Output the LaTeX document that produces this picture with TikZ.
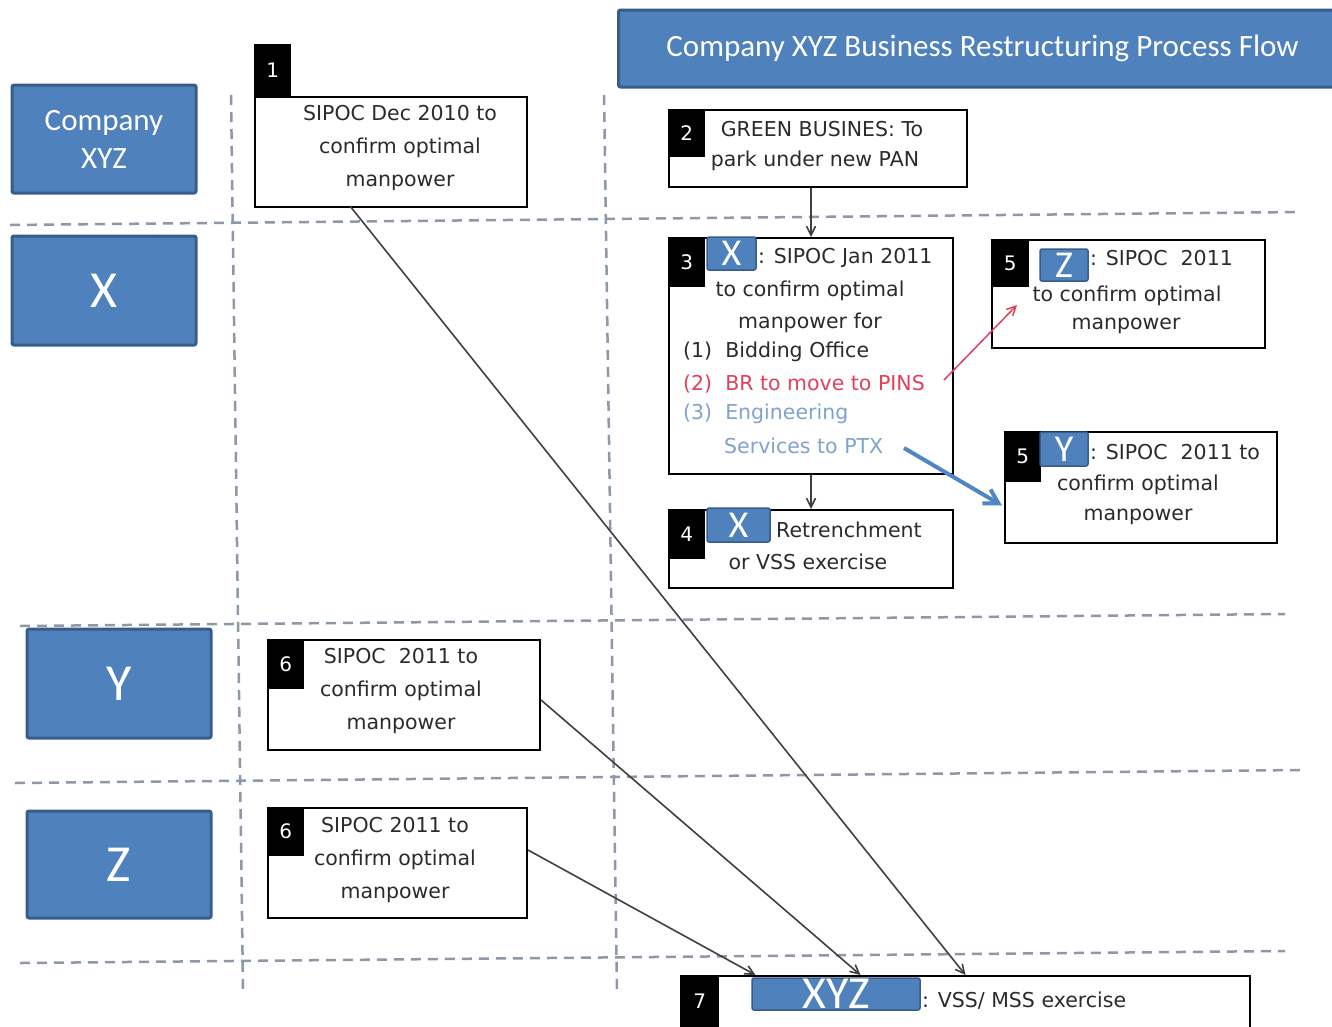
\documentclass[tikz,border=0pt]{standalone}
\usepackage{fontspec}
\setmainfont{Carlito}
\newfontfamily\boxfont{DejaVu Sans}
\usetikzlibrary{arrows.meta,calc}
\definecolor{lblue}{HTML}{4F81BD}
\definecolor{dblue}{HTML}{385D8A}
\definecolor{dashc}{HTML}{8D98A8}
\definecolor{txt}{HTML}{2B2B2B}
\definecolor{redc}{HTML}{E0405A}
\definecolor{lbtxt}{HTML}{7FA3CC}
\definecolor{arrblue}{HTML}{4F86C6}
\begin{document}
\begin{tikzpicture}[x=1pt,y=-1pt,
  lbl/.style={fill=lblue,draw=dblue,line width=3pt,rounded corners=2pt,text=white,align=center,inner sep=0pt},
  tag/.style={fill=lblue,draw=dblue,line width=1.5pt,rounded corners=2pt,text=white,inner sep=0pt},
  procbox/.style={draw=black,line width=2pt,fill=white,inner sep=0pt},
  tabbox/.style={fill=black,inner sep=0pt,text=white,font=\boxfont\fontsize{20}{24}\selectfont},
  btxt/.style={text=txt,font=\boxfont\fontsize{20.5}{33}\selectfont,align=center,inner sep=0pt},
  sep/.style={draw=dashc,line width=2.5pt,dash pattern=on 10pt off 7pt},
  arr/.style={draw=txt!90,line width=1.6pt,-{Straight Barb[length=9pt,width=9pt]}},
]
\useasboundingbox (0,0) rectangle (1332,1026);
\fill[white] (0,0) rectangle (1332,1026);

% separators
\draw[sep] (10,225) -- (1300,212);
\draw[sep] (20,626) -- (1285,614);
\draw[sep] (15,783) -- (1300,770);
\draw[sep] (20,963) -- (1285,951);
\draw[sep] (231,95) -- (243,990);
\draw[sep] (604,95) -- (617,995);

% title
\node[lbl,anchor=west,minimum width=728pt,minimum height=77pt,font=\fontsize{31}{36}\selectfont] (title) at (617,48.5) {Company XYZ Business Restructuring Process Flow};

% left labels
\node[lbl,minimum width=184pt,minimum height=108pt,font=\fontsize{31}{38}\selectfont] (lcomp) at (104,139) {Company\\XYZ};
\node[lbl,minimum width=184pt,minimum height=109pt,font=\fontsize{52}{60}\selectfont] (lx) at (104,290.5) {X};
\node[lbl,minimum width=184pt,minimum height=109pt,font=\fontsize{52}{60}\selectfont] (ly) at (119,683.5) {Y};
\node[lbl,minimum width=184pt,minimum height=107pt,font=\fontsize{52}{60}\selectfont] (lz) at (119,864.5) {Z};

% boxes
\node[procbox,minimum width=272pt,minimum height=110pt] (b1) at (391,152) {};
\node[tabbox,minimum width=37pt,minimum height=52pt,anchor=south west] (t1) at (b1.north west) {1};
\node[btxt] (x1) at (400,148) {SIPOC Dec 2010 to\\confirm optimal\\manpower};

\node[procbox,minimum width=298pt,minimum height=77pt] (b2) at (818,148.5) {};
\node[tabbox,minimum width=37pt,minimum height=48pt,anchor=north west] (t2) at (b2.north west) {2};
\node[btxt] (x2a) at (822,129) {GREEN BUSINES: To};
\node[btxt] (x2b) at (815,161) {park under new PAN};

\node[procbox,minimum width=284pt,minimum height=236pt] (b3) at (811,356) {};
\node[tabbox,minimum width=37pt,minimum height=50pt,anchor=north west] (t3) at (b3.north west) {3};
\node[tag,minimum width=49pt,minimum height=33pt,font=\fontsize{38}{40}\selectfont] (g3) at (731.5,253.5) {X};
\node[btxt,anchor=west] (x3a) at (758,258) {: SIPOC Jan 2011};
\node[btxt] (x3b) at (810,291) {to confirm optimal};
\node[btxt] (x3c) at (810,323) {manpower for};
\node[btxt,anchor=west] (x3d) at (683,352) {(1)\ \ Bidding Office};
\node[btxt,anchor=west,text=redc] (x3e) at (683,384) {(2)\ \ BR to move to PINS};
\node[btxt,anchor=west,text=lbtxt] (x3f) at (683,414) {(3)\ \ Engineering};
\node[btxt,anchor=west,text=lbtxt] (x3g) at (724,446) {Services to PTX};

\node[procbox,minimum width=284pt,minimum height=78pt] (b4) at (811,549) {};
\node[tabbox,minimum width=37pt,minimum height=50pt,anchor=north west] (t4) at (b4.north west) {4};
\node[tag,minimum width=63pt,minimum height=34pt,font=\fontsize{38}{40}\selectfont] (g4) at (738.5,525) {X};
\node[btxt,anchor=west] (x4a) at (776,530) {Retrenchment};
\node[btxt] (x4b) at (808,562) {or VSS exercise};

\node[procbox,minimum width=273pt,minimum height=108pt] (b5z) at (1128.5,294) {};
\node[tabbox,minimum width=38pt,minimum height=48pt,anchor=north west] (t5z) at (b5z.north west) {5};
\node[btxt,anchor=west] (x5za) at (1090,258) {: SIPOC\ \ 2011};
\node[btxt] (x5zb) at (1127,296) {to confirm optimal};
\node[btxt] (x5zc) at (1126,326) {manpower};
\node[tag,minimum width=48pt,minimum height=32pt,font=\fontsize{38}{40}\selectfont] (g5z) at (1064,265) {Z};

\node[procbox,minimum width=272pt,minimum height=111pt] (b5y) at (1141,487.5) {};
\node[tabbox,minimum width=37pt,minimum height=51pt,anchor=north west] (t5y) at (b5y.north west) {5};
\node[tag,minimum width=48pt,minimum height=34pt,font=\fontsize{38}{40}\selectfont] (g5y) at (1064,449) {Y};
\node[btxt,anchor=west] (x5ya) at (1090,452) {: SIPOC\ \ 2011 to};
\node[btxt] (x5yb) at (1138,485) {confirm optimal};
\node[btxt] (x5yc) at (1138,517) {manpower};

\node[procbox,minimum width=272pt,minimum height=110pt] (b6y) at (404,695) {};
\node[tabbox,minimum width=37pt,minimum height=50pt,anchor=north west] (t6y) at (b6y.north west) {6};
\node[btxt] (x6y) at (401,691) {SIPOC\ \ 2011 to\\confirm optimal\\manpower};

\node[procbox,minimum width=259pt,minimum height=110pt] (b6z) at (397.5,863) {};
\node[tabbox,minimum width=37pt,minimum height=49pt,anchor=north west] (t6z) at (b6z.north west) {6};
\node[btxt] (x6z) at (395,860) {SIPOC 2011 to\\confirm optimal\\manpower};

\node[procbox,minimum width=569pt,minimum height=64pt] (b7) at (965.5,1008) {};
\node[tabbox,minimum width=39pt,minimum height=52pt,anchor=north west] (t7) at (b7.north west) {7};
\node[tag,minimum width=168pt,minimum height=32pt,font=\fontsize{46}{48}\selectfont] (g7) at (836,994) {XYZ};
\node[btxt,anchor=west] (x7) at (922,1001) {: VSS/ MSS exercise};

% connectors
\draw[arr] (b3.north |- b2.south) -- (b3.north);
\draw[arr] (b3.south) -- (b4.north);
\draw[arr] ($(b1.south)+(-41,-2)$) -- (b7.north);
\draw[arr] ($(b6y.east)+(0,5)$) -- ($(b7.north)+(-105,0)$);
\draw[arr] ($(b6z.east)+(0,-13)$) -- ($(b7.north)+(-210,0)$);
\draw[draw=redc,line width=1.5pt,-{Straight Barb[length=9pt,width=9pt]}] ($(b3.east)+(-10,24)$) -- ($(b5z.west)+(26,11)$);
\draw[draw=arrblue,line width=4pt,-{Straight Barb[length=14pt,width=16pt]}] ($(b3.south east)+(-50,-27)$) -- ($(b5y.west)+(-2,18)$);
\end{tikzpicture}
\end{document}
